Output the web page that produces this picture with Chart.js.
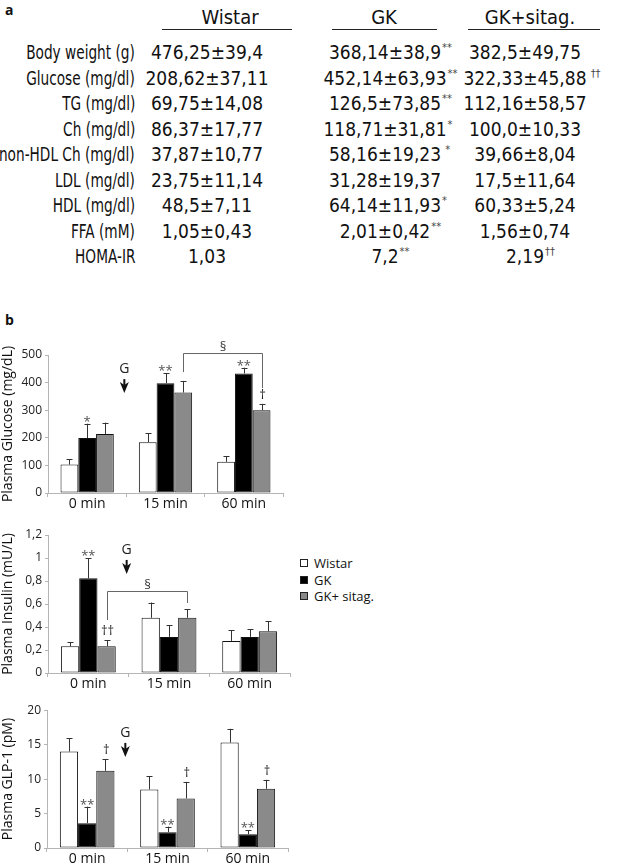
<!DOCTYPE html>
<html>
<head>
<meta charset="utf-8">
<script src="https://cdn.jsdelivr.net/npm/chart.js@4.4.1/dist/chart.umd.min.js"></script>
<style>
  html, body { margin: 0; padding: 0; background: #fff; }
  body { width: 638px; height: 865px; position: relative; overflow: hidden; color: #111; }
  .tbl { position: absolute; font-family: "DejaVu Sans Condensed", "DejaVu Sans", sans-serif; font-size: 19px; white-space: nowrap; line-height: 24px; }
  .lab { text-align: right; }
  .lab span { display: inline-block; transform: scaleX(0.8); transform-origin: right center; }
  .val { text-align: center; }
  .num { position: relative; }
  .sup { position: absolute; left: 100%; top: 1px; font-size: 11px; line-height: 11px; color: #444; padding-left: 1px; }
  .uline { position: absolute; height: 1px; background: #222; }
  .panel { position: absolute; font-family: "Open Sans", sans-serif; font-weight: bold; font-size: 14px; }
  .chartbox { position: absolute; }
  .legend { position: absolute; font-family: "Open Sans", sans-serif; font-size: 13px; line-height: 16.5px; }
  .legend .sw { display: inline-block; width: 6px; height: 6px; border: 1px solid #222; margin-right: 6px; vertical-align: 1px; }
</style>
</head>
<body>
<div class="panel" style="left:5px;top:0px;">a</div>
<div class="panel" style="left:5px;top:310px;">b</div>
<div id="table"></div>

<div class="chartbox" style="left:0;top:330px;width:300px;height:185px;"><canvas id="cGlucose"></canvas></div>
<div class="chartbox" style="left:0;top:515px;width:300px;height:185px;"><canvas id="cInsulin"></canvas></div>
<div class="chartbox" style="left:0;top:700px;width:300px;height:165px;"><canvas id="cGlp"></canvas></div>

<div class="legend" style="left:300px;top:555px;">
  <div><span class="sw" style="background:#fff"></span>Wistar</div>
  <div><span class="sw" style="background:#000"></span>GK</div>
  <div><span class="sw" style="background:#8a8a8a"></span>GK+ sitag.</div>
</div>

<script>
// ---------- panel a : table ----------
const colHeaders = ['Wistar', 'GK', 'GK+sitag.'];
const rowLabels = ['Body weight (g)', 'Glucose (mg/dl)', 'TG (mg/dl)', 'Ch (mg/dl)',
  'non-HDL Ch (mg/dl)', 'LDL (mg/dl)', 'HDL (mg/dl)', 'FFA (mM)', 'HOMA-IR'];
const wistarVals = ['476,25±39,4', '208,62±37,11', '69,75±14,08', '86,37±17,77',
  '37,87±10,77', '23,75±11,14', '48,5±7,11', '1,05±0,43', '1,03'];
const gkVals = ['368,14±38,9', '452,14±63,93', '126,5±73,85', '118,71±31,81',
  '58,16±19,23', '31,28±19,37', '64,14±11,93', '2,01±0,42', '7,2'];
const gkSig = ['**', '**', '**', '*', '&nbsp;*', '', '*', '**', '**'];
const sitagVals = ['382,5±49,75', '322,33±45,88', '112,16±58,57', '100,0±10,33',
  '39,66±8,04', '17,5±11,64', '60,33±5,24', '1,56±0,74', '2,19'];
const sitagSig = ['', '&nbsp;††', '', '', '', '', '', '', '††'];

// ---------- panel b : bar charts ----------
const groups = ['0 min', '15 min', '60 min'];
const seriesNames = ['Wistar', 'GK', 'GK+ sitag.'];

const glucoseWistar = [103, 184, 113];
const glucoseGK = [199, 398, 433];
const glucoseSitag = [214, 364, 300];
const glucoseWistarErr = [20, 32, 20];
const glucoseGKErr = [52, 36, 21];
const glucoseSitagErr = [41, 42, 23];

const insulinWistar = [0.233, 0.48, 0.279];
const insulinGK = [0.823, 0.314, 0.314];
const insulinSitag = [0.233, 0.48, 0.363];
const insulinWistarErr = [0.037, 0.133, 0.093];
const insulinGKErr = [0.174, 0.102, 0.067];
const insulinSitagErr = [0.052, 0.075, 0.087];

const glpWistar = [14.0, 8.5, 15.3];
const glpGK = [3.6, 2.3, 2.0];
const glpSitag = [11.2, 7.2, 8.6];
const glpWistarErr = [1.9, 1.9, 2.0];
const glpGKErr = [2.4, 0.8, 0.6];
const glpSitagErr = [1.7, 2.4, 1.3];

// significance marks: [serie, grupo, texto]
const glucoseSig = [[1, 0, '*'], [1, 1, '**'], [1, 2, '**'], [2, 2, '†']];
const insulinSig = [[1, 0, '**'], [2, 0, '††']];
const glpSig = [[1, 0, '**'], [2, 0, '†'], [1, 1, '**'], [2, 1, '†'], [1, 2, '**'], [2, 2, '†']];

// ====================================================
//  TABLA
// ====================================================
(function buildTable() {
  const host = document.getElementById('table');
  let html = '';
  const headCenters = [230, 384, 530];
  const headLines = [[162, 292], [332, 437], [468, 600]];
  colHeaders.forEach((h, i) => {
    html += `<div class="tbl val" style="left:${headCenters[i] - 80}px;top:5px;width:160px;font-size:20px;">${h}</div>`;
    const [a, b] = headLines[i];
    html += `<div class="uline" style="left:${a}px;top:29px;width:${b - a}px;"></div>`;
  });
  const labRight = 135;
  const valCenters = [207, 385, 525];
  const cell = (cx, top, txt, sig) =>
    `<div class="tbl val" style="left:${cx - 80}px;top:${top}px;width:160px;"><span class="num">${txt}` +
    (sig ? `<span class="sup">${sig}</span>` : '') + '</span></div>';
  rowLabels.forEach((lab, r) => {
    const top = 40 + r * 25.5;
    html += `<div class="tbl lab" style="left:${labRight - 300}px;top:${top}px;width:300px;"><span>${lab}</span></div>`;
    html += cell(valCenters[0], top, wistarVals[r], '');
    html += cell(valCenters[1], top, gkVals[r], gkSig[r]);
    html += cell(valCenters[2], top, sitagVals[r], sitagSig[r]);
  });
  host.innerHTML = html;
})();

// ====================================================
//  PLUGIN: error bars + marks
// ====================================================
const extrasPlugin = {
  id: 'extras',
  afterDatasetsDraw(chart) {
    const cfg = chart.options.plugins.extras;
    if (!cfg) return;
    const ctx = chart.ctx;
    const y = chart.scales.y;
    const x = chart.scales.x;
    ctx.save();

    // error bars (solo hacia arriba)
    const errTops = [];
    chart.data.datasets.forEach((ds, di) => {
      const meta = chart.getDatasetMeta(di);
      errTops[di] = [];
      meta.data.forEach((bar, i) => {
        const top = y.getPixelForValue(ds.data[i] + cfg.errors[di][i]);
        errTops[di][i] = top;
        ctx.strokeStyle = '#333';
        ctx.lineWidth = 1;
        ctx.beginPath();
        ctx.moveTo(Math.round(bar.x) + 0.5, bar.y);
        ctx.lineTo(Math.round(bar.x) + 0.5, top);
        ctx.moveTo(Math.round(bar.x) - 2.5, Math.round(top) + 0.5);
        ctx.lineTo(Math.round(bar.x) + 3.5, Math.round(top) + 0.5);
        ctx.stroke();
      });
    });

    // asteriscos / dagas
    ctx.textAlign = 'center';
    ctx.textBaseline = 'alphabetic';
    (cfg.sig || []).forEach(([di, i, txt]) => {
      const bar = chart.getDatasetMeta(di).data[i];
      const isStar = txt.indexOf('*') >= 0;
      ctx.fillStyle = isStar ? '#555' : '#222';
      ctx.font = '13px "Open Sans"';
      const base = isStar ? errTops[di][i] + 2 : errTops[di][i] - 5;
      ctx.fillText(txt, bar.x + (isStar ? 0 : 1), base);
    });

    // bracket con §
    (cfg.brackets || []).forEach((b) => {
      const b1 = chart.getDatasetMeta(b.from[0]).data[b.from[1]];
      const b2 = chart.getDatasetMeta(b.to[0]).data[b.to[1]];
      const yt = Math.round(y.getPixelForValue(b.top)) + 0.5;
      const x1 = Math.round(b1.x) + 0.5;
      const x2 = Math.round(b2.x) + 0.5;
      ctx.strokeStyle = '#666';
      ctx.lineWidth = 1;
      ctx.beginPath();
      ctx.moveTo(x1, y.getPixelForValue(b.leftEnd));
      ctx.lineTo(x1, yt);
      ctx.lineTo(x2, yt);
      ctx.lineTo(x2, y.getPixelForValue(b.rightEnd));
      ctx.stroke();
      ctx.fillStyle = '#333';
      ctx.font = '13px "Open Sans"';
      ctx.fillText('§', (x1 + x2) / 2, yt - 3);
    });

    // flecha "G"
    if (cfg.gArrow != null) {
      const gx = (x.getPixelForValue(0) + x.getPixelForValue(1)) / 2 - 2;
      const gy = y.getPixelForValue(cfg.gArrow);
      ctx.fillStyle = '#222';
      ctx.font = '14px "Open Sans"';
      ctx.textBaseline = 'middle';
      ctx.fillText('G', gx, gy);
      const a0 = gy + 10;
      ctx.strokeStyle = '#111';
      ctx.fillStyle = '#111';
      ctx.lineWidth = 2;
      ctx.beginPath();
      ctx.moveTo(gx, a0);
      ctx.lineTo(gx, a0 + 8);
      ctx.stroke();
      ctx.beginPath();
      ctx.moveTo(gx - 4.5, a0 + 3);
      ctx.lineTo(gx, a0 + 6);
      ctx.lineTo(gx + 4.5, a0 + 3);
      ctx.lineTo(gx, a0 + 14);
      ctx.closePath();
      ctx.fill();
    }
    ctx.restore();
  },
};

function fmtComma(v) {
  const r = Math.round(v * 100) / 100;
  return String(r).replace('.', ',');
}

function makeChart(el, opts) {
  return new Chart(el, {
    type: 'bar',
    data: {
      labels: groups,
      datasets: [
        { label: seriesNames[0], data: opts.data[0], backgroundColor: '#ffffff' },
        { label: seriesNames[1], data: opts.data[1], backgroundColor: '#000000' },
        { label: seriesNames[2], data: opts.data[2], backgroundColor: '#8a8a8a' },
      ].map((d) => Object.assign(d, {
        borderColor: '#111',
        borderWidth: 1,
        borderSkipped: false,
        categoryPercentage: 0.68,
        barPercentage: 1.0,
      })),
    },
    options: {
      responsive: true,
      maintainAspectRatio: false,
      animation: false,
      events: [],
      layout: { padding: { top: opts.padTop, right: opts.padRight, left: 0, bottom: 0 } },
      plugins: {
        legend: { display: false },
        tooltip: { enabled: false },
        extras: {
          errors: opts.errors,
          sig: opts.sig,
          brackets: opts.brackets,
          gArrow: opts.gArrow,
        },
      },
      scales: {
        x: {
          grid: { offset: true, drawOnChartArea: false, drawTicks: true, tickLength: 4, color: '#b5b5b5' },
          border: { color: '#b5b5b5' },
          ticks: { color: '#111', font: { family: 'Open Sans', size: 14 }, padding: -1, maxRotation: 0 },
          afterFit(s) { s.height = opts.xHeight; },
        },
        y: {
          min: 0,
          max: opts.max,
          grid: { drawOnChartArea: false, drawTicks: true, tickLength: 3, color: '#b5b5b5' },
          border: { color: '#b5b5b5' },
          ticks: { stepSize: opts.step, color: '#222', font: { family: 'Open Sans', size: 12 }, padding: 3,
            callback: (v) => fmtComma(v) },
          title: { display: true, text: opts.title, color: '#111', font: { family: 'Open Sans', size: 14 },
            padding: { top: 0, bottom: 0 } },
          afterFit(s) { s.width = opts.yWidth; },
        },
      },
    },
    plugins: [extrasPlugin],
  });
}

makeChart(document.getElementById('cGlucose'), {
  data: [glucoseWistar, glucoseGK, glucoseSitag],
  errors: [glucoseWistarErr, glucoseGKErr, glucoseSitagErr],
  sig: glucoseSig,
  brackets: [{ from: [2, 1], to: [2, 2], top: 507, leftEnd: 438, rightEnd: 380 }],
  gArrow: 449,
  max: 500, step: 100,
  title: 'Plasma Glucose (mg/dL)',
  padTop: 25, padRight: 17, xHeight: 22, yWidth: 48,
});

makeChart(document.getElementById('cInsulin'), {
  data: [insulinWistar, insulinGK, insulinSitag],
  errors: [insulinWistarErr, insulinGKErr, insulinSitagErr],
  sig: insulinSig,
  brackets: [{ from: [2, 0], to: [2, 1], top: 0.713, leftEnd: 0.461, rightEnd: 0.609 }],
  gArrow: 1.07,
  max: 1.2, step: 0.2,
  title: 'Plasma Insulin (mU/L)',
  padTop: 20, padRight: 10, xHeight: 27, yWidth: 48,
});

makeChart(document.getElementById('cGlp'), {
  data: [glpWistar, glpGK, glpSitag],
  errors: [glpWistarErr, glpGKErr, glpSitagErr],
  sig: glpSig,
  brackets: [],
  gArrow: 16.7,
  max: 20, step: 5,
  title: 'Plasma GLP-1 (pM)',
  padTop: 10, padRight: 12, xHeight: 17, yWidth: 47,
});
</script>
</body>
</html>
